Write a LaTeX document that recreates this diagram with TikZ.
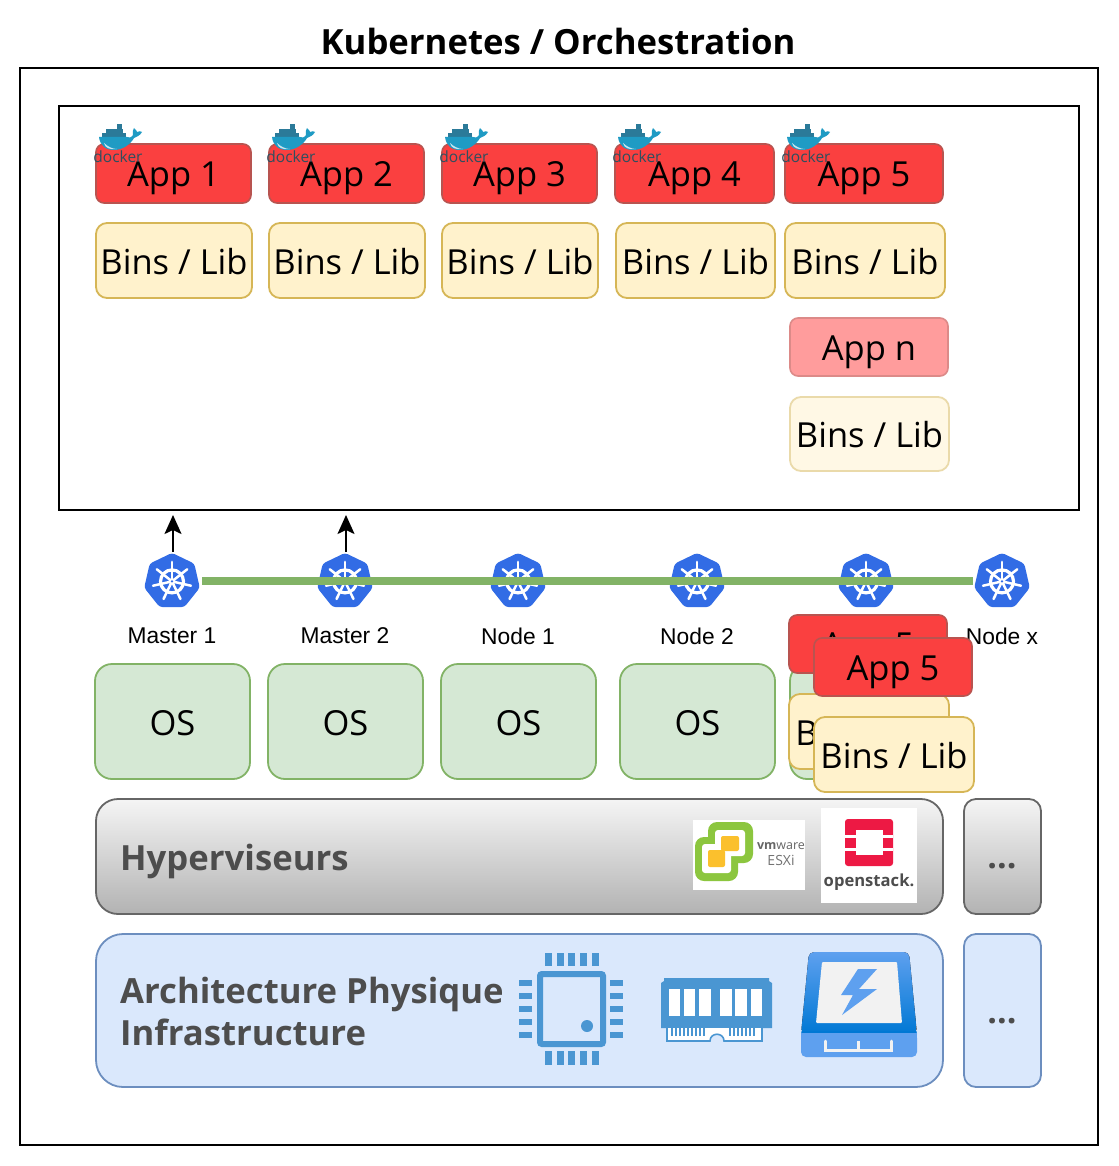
\documentclass[tikz,border=0pt]{standalone}
\usepackage{fontspec}
\setmainfont{Open Sans}
\newfontfamily\arialf{Liberation Sans}
\usetikzlibrary{shapes.geometric,arrows.meta}
\definecolor{appred}{HTML}{FA4040}
\definecolor{appedge}{HTML}{B85450}
\definecolor{appnfill}{HTML}{FF9C9C}
\definecolor{appnedge}{HTML}{DC8A88}
\definecolor{binfill}{HTML}{FFF2CC}
\definecolor{binedge}{HTML}{D6B656}
\definecolor{binnfill}{HTML}{FFF8E5}
\definecolor{binnedge}{HTML}{EADAAA}
\definecolor{osfill}{HTML}{D5E8D4}
\definecolor{osedge}{HTML}{82B366}
\definecolor{archfill}{HTML}{DAE8FC}
\definecolor{archedge}{HTML}{6C8EBF}
\definecolor{darktxt}{HTML}{4D4D4D}
\definecolor{kblue}{HTML}{326CE5}
\definecolor{chipblue}{HTML}{4A96D2}
\definecolor{ssdlight}{HTML}{5EA0EF}
\definecolor{ssddark}{HTML}{0078D4}
\definecolor{vmgreen}{HTML}{8CC63F}
\definecolor{vmyellow}{HTML}{FBC02D}
\definecolor{osred}{HTML}{ED1944}
\definecolor{dockblue}{HTML}{1F9BC4}
\definecolor{dockdark}{HTML}{2B7A99}
\definecolor{docktext}{HTML}{2F4F5F}
\tikzset{
  base/.style={rectangle,inner sep=0pt,outer sep=0pt,align=center,text=black},
  bigtext/.style={text height=27pt,text depth=0pt,font=\fontsize{34.5}{40}\selectfont},
  appbox/.style={base,draw=appedge,fill=appred,line width=1.6pt,rounded corners=8pt,bigtext},
  appnbox/.style={appbox,draw=appnedge,fill=appnfill},
  binbox/.style={base,draw=binedge,fill=binfill,line width=1.8pt,rounded corners=11pt,bigtext},
  binnbox/.style={binbox,draw=binnedge,fill=binnfill},
  osbox/.style={base,draw=osedge,fill=osfill,line width=1.8pt,rounded corners=17pt,bigtext},
  hyperbox/.style={base,draw=black!60,line width=1.8pt,top color=black!4,bottom color=black!30},
  archbox/.style={base,draw=archedge,fill=archfill,line width=1.8pt},
  frame/.style={base,draw=black,line width=2pt},
  darklabel/.style={inner sep=0pt,text=darktxt,font=\bfseries\fontsize{34.7}{42}\selectfont,align=left},
  dots/.style={inner sep=0pt,text=darktxt,font=\bfseries\fontsize{34}{40}\selectfont},
  klabel/.style={inner sep=0pt,font=\arialf\fontsize{22.8}{26}\selectfont},
  khepta/.style={regular polygon,regular polygon sides=7,minimum size=57pt,inner sep=0pt,outer sep=0pt,fill=kblue,rounded corners=3pt},
  wiretip/.style={line width=2pt,-{Stealth[length=19pt,width=17pt,inset=4pt]}},
  wheel/.pic={
    \draw[white,line width=3.2pt] (0,0) circle (11.5);
    \foreach \i in {0,...,6}{
      \pgfmathsetmacro\a{-90+\i*360/7}
      \draw[white,line width=2.5pt,line cap=round] (\a:3) -- (\a:19.5);
    }
    \fill[white] (0,0) circle (3.4);
    \fill[kblue] (0,0) circle (1.3);
  },
  dockerlogo/.pic={
    \fill[dockdark] (21,-20) rectangle (26,-15);
    \fill[dockdark] (10,-15) rectangle (27,-11);
    \fill[dockdark] (6,-11) rectangle (30,-7);
    \fill[dockblue] (3,-7) -- (31,-7) .. controls (33,-6) and (35,-6) .. (37,-9)
      .. controls (36,-12) and (37,-14) .. (38,-16) .. controls (40,-14) and (41,-13) .. (41,-12)
      .. controls (43,-13) and (45,-13) .. (46,-12) .. controls (44,-8) and (40,-7) .. (38,-6)
      .. controls (34,1) and (26,6) .. (18,6) .. controls (9,6) and (4,1) .. (3,-7) -- cycle;
    \fill[white,opacity=.75] (8,-1) .. controls (12,3) and (17,5) .. (21,5) .. controls (14,6) and (9,4) .. (8,-1) -- cycle;
    \node[inner sep=0pt,text=docktext,font=\fontsize{15.5}{18}\selectfont] at (22,13) {docker};
  }
}
\newcommand{\bx}[7]{%
  \pgfmathsetmacro\bxcx{(#3+#5)/2}%
  \pgfmathsetmacro\bxcy{(#4+#6)/2}%
  \pgfmathsetmacro\bxw{#5-#3}%
  \pgfmathsetmacro\bxh{#6-#4}%
  \node[#1,minimum width=\bxw pt,minimum height=\bxh pt] (#2) at (\bxcx,\bxcy) {#7};}
\begin{document}
\begin{tikzpicture}[x=1pt,y=-1pt]
\useasboundingbox (0,0) rectangle (1118,1166);
\fill[white] (0,0) rectangle (1118,1166);
\node[inner sep=0pt,font=\bfseries\fontsize{34.7}{40}\selectfont] (title) at (558,41) {Kubernetes / Orchestration};
\bx{frame}{outer}{20}{68}{1098}{1145}{}
\bx{frame}{inner}{59}{106}{1079}{510}{}
% apps
\bx{appbox}{a1}{96}{144}{251}{203}{App 1}
\bx{appbox}{a2}{269}{144}{424}{203}{App 2}
\bx{appbox}{a3}{442}{144}{597}{203}{App 3}
\bx{appbox}{a4}{615}{144}{774}{203}{App 4}
\bx{appbox}{a5}{785}{144}{943}{203}{App 5}
\pic at (96,144) {dockerlogo};
\pic at (269,144) {dockerlogo};
\pic at (442,144) {dockerlogo};
\pic at (615,144) {dockerlogo};
\pic at (784,144) {dockerlogo};
\bx{binbox}{b1}{96}{223}{252}{298}{Bins / Lib}
\bx{binbox}{b2}{269}{223}{425}{298}{Bins / Lib}
\bx{binbox}{b3}{442}{223}{598}{298}{Bins / Lib}
\bx{binbox}{b4}{616}{223}{775}{298}{Bins / Lib}
\bx{binbox}{b5}{785}{223}{945}{298}{Bins / Lib}
\bx{appnbox}{an}{790}{318}{948}{376}{App n}
\bx{binnbox}{bn}{790}{397}{949}{471}{Bins / Lib}
% kubernetes row
\node[khepta] (k1) at (172,581.4) {};
\node[khepta] (k2) at (345,581.4) {};
\node[khepta] (k3) at (518,581.4) {};
\node[khepta] (k4) at (697,581.4) {};
\node[khepta] (k5) at (866,581.4) {};
\node[khepta] (k6) at (1002,581.4) {};
\foreach \k in {k1,k2,k3,k4,k5,k6}{\pic at (\k) {wheel};}
\coordinate (t1) at (173,515);
\coordinate (t2) at (346,515);
\coordinate (s1) at (173,552);
\coordinate (s2) at (346,552);
\draw[wiretip] (s1) -- (t1);
\draw[wiretip] (s2) -- (t2);
\coordinate (gl) at (202,581);
\coordinate (gr) at (973,581);
\draw[osedge,line width=8pt] (gl) -- (gr);
\node[klabel] (l1) at (172,636) {Master 1};
\node[klabel] (l2) at (345,636) {Master 2};
\node[klabel] (l3) at (518,636) {Node 1};
\node[klabel] (l4) at (697,636) {Node 2};
\node[klabel] (l6) at (1002,636) {Node x};
% OS row
\bx{osbox}{o1}{95}{664}{250}{779}{OS}
\bx{osbox}{o2}{268}{664}{423}{779}{OS}
\bx{osbox}{o3}{441}{664}{596}{779}{OS}
\bx{osbox}{o4}{620}{664}{775}{779}{OS}
\bx{osbox}{o5}{790}{664}{945}{779}{OS}
\bx{appbox}{ab}{789}{615}{947}{673}{App 5}
\bx{binbox}{bb}{789}{694}{949}{769}{Bins / Lib}
\bx{appbox}{af}{814}{638}{972}{696}{App 5}
\bx{binbox}{bf}{814}{717}{974}{792}{Bins / Lib}
% hypervisors
\bx{hyperbox,rounded corners=22pt}{hy}{96}{799}{943}{914}{}
\bx{hyperbox,rounded corners=12pt}{hy2}{964}{799}{1041}{914}{}
\node[darklabel,anchor=west] (hyt) at (120,861) {Hyperviseurs};
\node[dots] (hyd) at (1002,866) {...};
% vmware logo
\fill[white] (693,820) rectangle (805,890);
\fill[vmgreen,rounded corners=9pt] (708,822) rectangle (753,863);
\fill[vmgreen,rounded corners=9pt] (695,837) rectangle (738,881);
\fill[white,rounded corners=3pt] (715,830) rectangle (745,856);
\fill[white,rounded corners=3pt] (702,844) rectangle (731,873);
\fill[vmyellow,rounded corners=2pt] (721,836) rectangle (739,851);
\fill[vmyellow,rounded corners=2pt] (708,850) rectangle (725,867);
\node[inner sep=0pt,text=black!60,font=\fontsize{12.5}{16}\selectfont] (vmt) at (781,846) {\textbf{vm}ware};
\node[inner sep=0pt,text=black!55,font=\fontsize{14}{16}\selectfont] (vme) at (781,860) {ESXi};
% openstack logo
\fill[white] (821,808) rectangle (917,903);
\fill[osred,rounded corners=3pt] (845,819) rectangle (893,866);
\fill[white] (856,830) rectangle (883,855);
\fill[white] (845,835) rectangle (856,838);
\fill[white] (845,848) rectangle (856,851);
\fill[white] (883,835) rectangle (893,838);
\fill[white] (883,848) rectangle (893,851);
\node[inner sep=0pt,text=darktxt,font=\bfseries\fontsize{16.6}{22}\selectfont] (ost) at (869,882) {openstack.};
% architecture
\bx{archbox,rounded corners=27pt}{ar}{96}{934}{943}{1087}{}
\bx{archbox,rounded corners=12pt}{ar2}{964}{934}{1041}{1087}{}
\node[darklabel,anchor=west] (art) at (120,1011) {Architecture Physique\\Infrastructure};
\node[dots] (ard) at (1002,1021) {...};
% chip
\draw[chipblue,line width=6pt,rounded corners=2pt] (540,974) rectangle (603,1044);
\fill[chipblue] (587,1026) circle (6);
\foreach \x in {545,557,568,580,592}{
  \fill[chipblue] (\x,953) rectangle (\x+7,966);
  \fill[chipblue] (\x,1051) rectangle (\x+7,1065);
}
\foreach \y in {980,993,1006,1019,1032}{
  \fill[chipblue] (519,\y) rectangle (532,\y+6);
  \fill[chipblue] (610,\y) rectangle (623,\y+6);
}
% memory
\fill[chipblue] (664,978) -- (769,978) -- (769,981) -- (772,983) -- (772,1028) -- (661,1028) -- (661,983) -- (664,981) -- cycle;
\foreach \a/\b in {669/680,684/695,699/711,720/732,735/747,751/762}{
  \fill[white] (\a,989) rectangle (\b,1016);
}
\draw[chipblue,line width=1.6pt,fill=white] (667,1028) -- (667,1041) -- (710,1041) .. controls (710,1032) and (724,1032) .. (724,1041) -- (762,1041) -- (762,1028);
\foreach \x in {672,676,680,684,688,692,696,700,704,730,734,738,742,746,750,754}{
  \draw[chipblue,line width=1.2pt] (\x,1028) -- (\x,1036);
}
% ssd
\fill[top color=ssdlight,bottom color=ssddark,rounded corners=5pt] (809,952) -- (909,952) -- (917,1034) -- (801,1034) -- cycle;
\fill[ssddark] (801.6,1031) -- (916.4,1031) -- (917,1034) -- (801,1034) -- cycle;
\fill[ssdlight,rounded corners=5pt] (801,1033) -- (917,1033) -- (917,1057) -- (801,1057) -- cycle;
\fill[ssdlight] (801,1033) rectangle (917,1040);
\fill[black!5,rounded corners=1pt] (822,962) -- (897,962) -- (902,1023) -- (816,1023) -- cycle;
\fill[ssdlight] (858,969) -- (877,969) -- (859,989) -- (877,989) -- (842,1015) -- (853,995) -- (841,995) -- cycle;
\draw[black!5,line width=3pt,line cap=round] (825,1041) -- (825,1050) -- (891,1050) -- (891,1041);
\draw[black!5,line width=3pt] (858,1041) -- (858,1050);
\end{tikzpicture}
\end{document}
